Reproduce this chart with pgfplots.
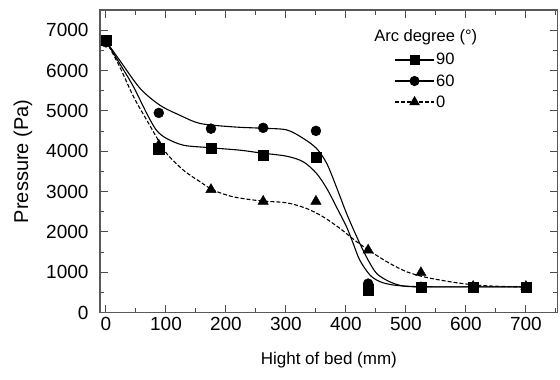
\documentclass[border=0pt]{standalone}
\usepackage{fontspec}
\setmainfont{Liberation Sans}
\usepackage{pgfplots}
\pgfplotsset{compat=1.18}

\begin{document}
\begin{tikzpicture}
\begin{axis}[
  at={(0,0)}, anchor=south west,
  scale only axis,
  width=457.7pt, height=302.7pt,
  xmin=-10, xmax=753, ymin=0, ymax=7500,
  xtick={0,100,...,700}, ytick={0,1000,...,7000},
  minor xtick={50,150,...,750}, minor ytick={500,1500,...,7500},
  tick align=inside,
  major tick length=8pt, minor tick length=4.5pt,
  every tick/.style={black!70, line width=1pt},
  axis line style={black!65, line width=1.5pt},
  /pgf/number format/assume math mode=true,
  /pgf/number format/set thousands separator={},
  tick label style={font=\fontsize{19}{22}\selectfont},
  xticklabel style={yshift=-1pt},
  yticklabel style={xshift=-8pt},
  xlabel={Hight of bed (mm)},
  ylabel={Pressure (Pa)},
  xlabel style={font=\fontsize{17}{20}\selectfont, at={(axis description cs:0.5,0)}, anchor=center, yshift=-47.3pt},
  ylabel style={font=\fontsize{20}{24}\selectfont, at={(axis description cs:0,0.5)}, anchor=center, yshift=77pt},
  legend style={draw=none, fill=none, at={(0.643,0.862)}, anchor=north west,
    font=\fontsize{16.5}{19}\selectfont, row sep=5pt, inner sep=0pt,
    nodes={inner sep=1.5pt}},
  legend cell align=left,
  legend image code/.code={%
    \draw[mark repeat=2,mark phase=2,#1] plot coordinates {(0pt,0pt)(19.5pt,0pt)(39pt,0pt)};},
]

% fitted curves
\addplot[black, line width=1.1pt, smooth, tension=0.5, forget plot] coordinates {
  (0,6730) (23,6170) (46,5594) (68,4935) (84,4522) (101,4317) (129,4150)
  (168,4094) (223,4027) (257,3960) (301,3878) (329,3738) (351,3450)
  (368,3079) (384,2624) (401,2129) (412,1718) (423,1304) (440,933)
  (457,767) (479,686) (510,650) (560,640) (620,640) (700,640)};
\addplot[black, line width=1.1pt, smooth, tension=0.5, forget plot] coordinates {
  (0,6730) (23,6250) (57,5555) (90,5140) (123,4893) (157,4688) (212,4604)
  (260,4570) (301,4530) (329,4317) (351,4069) (368,3698) (384,3119)
  (401,2460) (418,1881) (434,1386) (451,975) (473,767) (496,660)
  (530,640) (600,640) (700,640)};
\addplot[black, line width=1.1pt, dashed, dash pattern=on 4pt off 2pt, smooth, tension=0.5, forget plot] coordinates {
  (0,6730) (23,6089) (46,5347) (68,4770) (84,4356) (101,3946) (129,3532)
  (157,3243) (179,3037) (212,2871) (257,2772) (301,2723) (334,2584)
  (362,2376) (390,2088) (418,1757) (446,1469) (473,1222) (501,1015)
  (529,891) (557,809) (584,743) (620,680) (660,650) (700,640)};

% measured points
\addplot[only marks, mark=square*, mark size=5.2pt, black, forget plot] coordinates {
  (0,6750) (88,4060) (175,4080) (262,3900) (350,3860) (437,570) (525,630) (612,630) (700,630)};
\addplot[only marks, mark=*, mark size=5pt, black, forget plot] coordinates {
  (0,6700) (88,4950) (175,4560) (262,4580) (350,4505) (437,720) (525,640) (612,640) (700,635)};
\addplot[only marks, mark=triangle*, mark size=6pt, black, forget plot] coordinates {
  (0,6700) (88,4150) (175,3050) (262,2760) (350,2760) (437,1550) (525,990) (612,650) (700,650)};

% legend entries
\addlegendimage{black, line width=1.1pt, mark=square*, mark size=4.5pt}
\addlegendentry{90}
\addlegendimage{black, line width=1.1pt, mark=*, mark size=4.5pt}
\addlegendentry{60}
\addlegendimage{black, line width=1.1pt, dashed, dash pattern=on 4pt off 2pt, mark=triangle*, mark size=5pt, mark options={solid}}
\addlegendentry{0}

\node[font=\fontsize{16.5}{19}\selectfont] at (axis cs:533,6824) {Arc degree (°)};
\end{axis}
\pgfresetboundingbox
\path[use as bounding box] (-100pt,-67.3pt) rectangle (460pt,312.7pt);
\end{tikzpicture}
\end{document}
